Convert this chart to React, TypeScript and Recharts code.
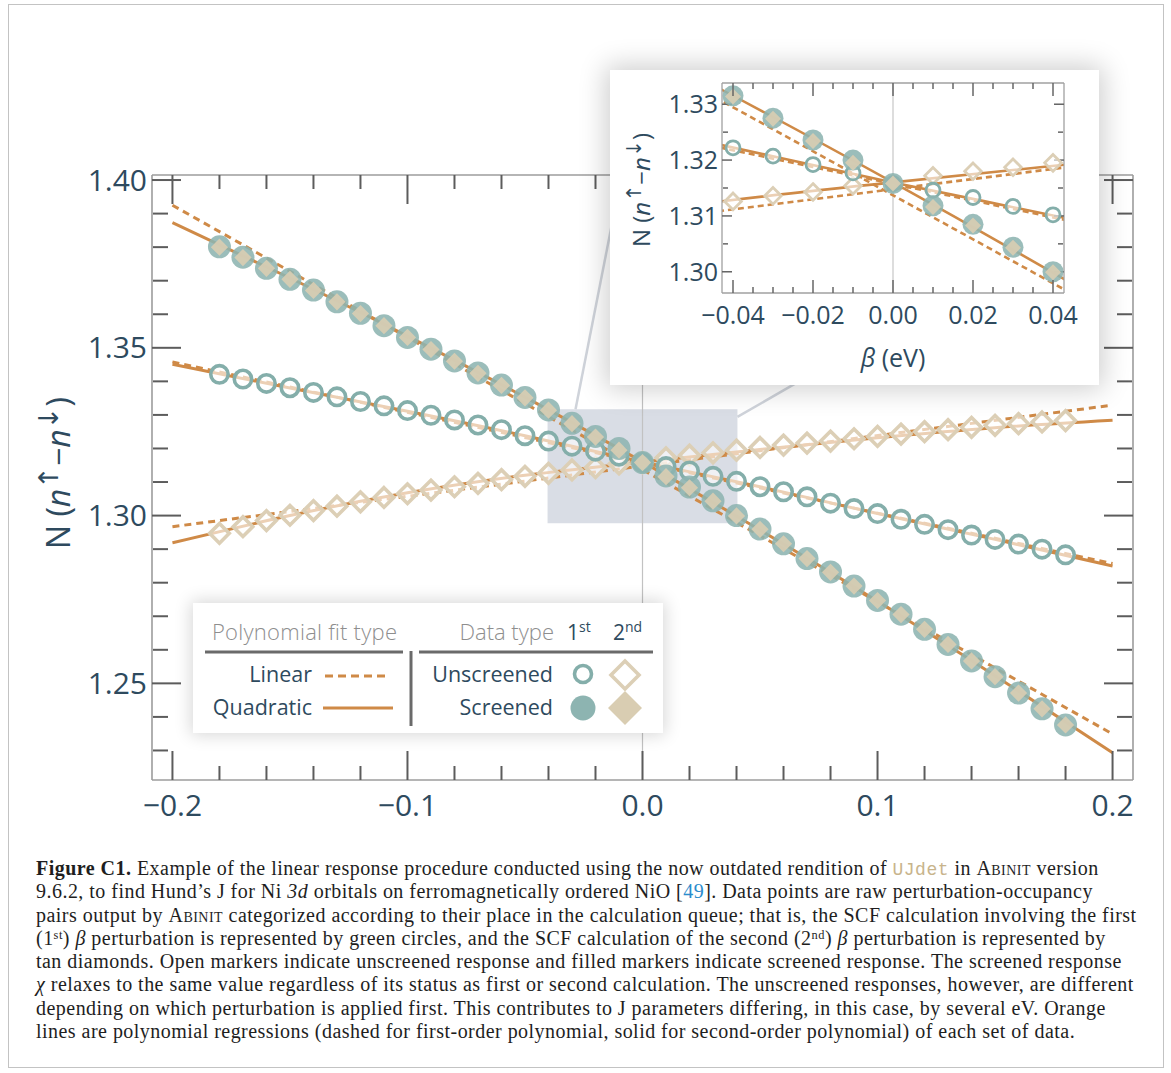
import React from 'react';
import { ComposedChart, Line, Scatter, XAxis, YAxis, ReferenceLine, ReferenceArea } from 'recharts';

// ---------- data ----------
const beta = [-0.18, -0.17, -0.16, -0.15, -0.14, -0.13, -0.12, -0.11, -0.10, -0.09, -0.08, -0.07, -0.06, -0.05, -0.04, -0.03, -0.02, -0.01, 0, 0.01, 0.02, 0.03, 0.04, 0.05, 0.06, 0.07, 0.08, 0.09, 0.10, 0.11, 0.12, 0.13, 0.14, 0.15, 0.16, 0.17, 0.18];

const screened1st = [1.3801, 1.3770, 1.3737, 1.3704, 1.3672, 1.3637, 1.3603, 1.3566, 1.3531, 1.3496, 1.3461, 1.3425, 1.3389, 1.3352, 1.3315, 1.3275, 1.3236, 1.3200, 1.3158, 1.3118, 1.3085, 1.3044, 1.3000, 1.2960, 1.2916, 1.2872, 1.2832, 1.2790, 1.2747, 1.2706, 1.2661, 1.2616, 1.2567, 1.2520, 1.2471, 1.2424, 1.2376];
const screened2nd = [1.3800, 1.3769, 1.3737, 1.3704, 1.3671, 1.3637, 1.3602, 1.3566, 1.3531, 1.3495, 1.3460, 1.3424, 1.3388, 1.3351, 1.3314, 1.3274, 1.3234, 1.3195, 1.3158, 1.3116, 1.3083, 1.3043, 1.2999, 1.2959, 1.2916, 1.2872, 1.2831, 1.2790, 1.2747, 1.2705, 1.2661, 1.2616, 1.2567, 1.2520, 1.2471, 1.2424, 1.2376];
const unscreened1st = [1.3421, 1.3407, 1.3394, 1.3381, 1.3367, 1.3354, 1.3340, 1.3327, 1.3313, 1.3299, 1.3285, 1.3270, 1.3256, 1.3238, 1.3222, 1.3207, 1.3192, 1.3177, 1.3158, 1.3146, 1.3133, 1.3117, 1.3102, 1.3086, 1.3071, 1.3056, 1.3037, 1.3021, 1.3006, 1.2989, 1.2974, 1.2958, 1.2942, 1.2929, 1.2915, 1.2900, 1.2883];
const unscreened2nd = [1.2947, 1.2967, 1.2985, 1.3001, 1.3015, 1.3028, 1.3041, 1.3054, 1.3065, 1.3076, 1.3086, 1.3096, 1.3107, 1.3117, 1.3126, 1.3136, 1.3143, 1.3154, 1.3158, 1.3172, 1.3180, 1.3187, 1.3195, 1.3203, 1.3210, 1.3216, 1.3222, 1.3229, 1.3236, 1.3243, 1.3250, 1.3256, 1.3263, 1.3269, 1.3274, 1.3279, 1.3283];

// polynomial fits
const fitBeta = [-0.2, -0.15, -0.1, -0.05, 0, 0.05, 0.1, 0.15, 0.2];
const quadScreened = [1.3873, 1.3708, 1.3535, 1.3353, 1.3160, 1.2957, 1.2745, 1.2523, 1.2293];
const quadUnscreened1st = [1.3451, 1.3380, 1.3311, 1.3238, 1.3160, 1.3086, 1.3006, 1.2929, 1.2850];
const quadUnscreened2nd = [1.2919, 1.3000, 1.3068, 1.3120, 1.3160, 1.3197, 1.3232, 1.3262, 1.3284];
const linBeta = [-0.2, 0.2];
const linScreened = [1.3925, 1.2349];
const linUnscreened1st = [1.3458, 1.2857];
const linUnscreened2nd = [1.2967, 1.3329];

// axes / ticks
const mainXDomain = [-0.2087, 0.2087];
const mainYDomain = [1.2212, 1.4015];
const mainXTicks = [-0.2, -0.1, 0, 0.1, 0.2];
const mainXMinor = [-0.18, -0.16, -0.14, -0.12, -0.08, -0.06, -0.04, -0.02, 0.02, 0.04, 0.06, 0.08, 0.12, 0.14, 0.16, 0.18];
const mainYTicks = [1.25, 1.30, 1.35, 1.40];
const mainYMinor = [1.23, 1.24, 1.26, 1.27, 1.28, 1.29, 1.31, 1.32, 1.33, 1.34, 1.36, 1.37, 1.38, 1.39];

const insetXDomain = [-0.04275, 0.04275];
const insetYDomain = [1.2962, 1.3338];
const insetXTicks = [-0.04, -0.02, 0, 0.02, 0.04];
const insetXMinor = [-0.035, -0.03, -0.025, -0.015, -0.01, -0.005, 0.005, 0.01, 0.015, 0.025, 0.03, 0.035];
const insetYTicks = [1.30, 1.31, 1.32, 1.33];
const insetYMinor = [1.305, 1.315, 1.325];

// zoom box in main coordinates
const zoomBox = { x1: -0.0404, x2: 0.0404, y1: 1.2977, y2: 1.3317 };
const connectorA = [{ x: -0.0285, y: 1.3317 }, { x: -0.00915, y: 1.4006 }];
const connectorB = [{ x: 0.0404, y: 1.3294 }, { x: 0.0751, y: 1.3434 }];

// ---------- styles ----------
const ORANGE = '#cf8a47';
const TEAL = '#8db4b1';
const TEAL_STROKE = '#84aeaa';
const TAN = '#d9cdb2';
const TAN_STROKE = '#dccfb6';
const LABEL = '#2e4a5e';
const FONT = "'Open Sans', sans-serif";

const pts = (xs: number[], ys: number[]) => xs.map((x, i) => ({ x, y: ys[i] }));
const minus = (s: string) => s.replace('-', '\u2212');
const fx1 = (v: number) => minus(v.toFixed(1));
const fx2 = (v: number) => minus(v.toFixed(2));
const fy2 = (v: number) => v.toFixed(2);
const noLabel = () => <g />;
const sortNum = (a: number[]) => [...a].sort((p, q) => p - q);

// x-axis tick: inward tick marks on bottom and top edges, label for majors
const makeXTick = (majors: number[], fmt: (v: number) => string, fontSize: number, margin: number,
  plotH: number, majLen: number, minLen: number, stroke: string, sw: number) => (p: any) => {
  const v = p.payload.value;
  const isMaj = majors.some((t) => Math.abs(t - v) < 1e-9);
  const axisY = p.y - margin;
  const topY = axisY - plotH;
  const len = isMaj ? majLen : minLen;
  return (
    <g>
      <line x1={p.x} x2={p.x} y1={axisY} y2={axisY - len} stroke={stroke} strokeWidth={sw} />
      <line x1={p.x} x2={p.x} y1={topY} y2={topY + len} stroke={stroke} strokeWidth={sw} />
      {isMaj && (
        <text x={p.x} y={p.y} dy="0.71em" textAnchor="middle" fontFamily={FONT} fontSize={fontSize} fill={LABEL}>{fmt(v)}</text>
      )}
    </g>
  );
};

const openCircle = (r: number, sw: number) => (p: any) => (
  <circle cx={p.cx} cy={p.cy} r={r} fill="#ffffff" fillOpacity={0.6} stroke={TEAL_STROKE} strokeWidth={sw} />
);
const filledCircle = (r: number) => (p: any) => (
  <circle cx={p.cx} cy={p.cy} r={r} fill={TEAL} fillOpacity={0.88} />
);
const diamondPath = (cx: number, cy: number, h: number) => `M${cx},${cy - h}L${cx + h},${cy}L${cx},${cy + h}L${cx - h},${cy}Z`;
const openDiamond = (h: number, sw: number) => (p: any) => (
  <path d={diamondPath(p.cx, p.cy, h)} fill="#ffffff" fillOpacity={0.6} stroke={TAN_STROKE} strokeWidth={sw} strokeLinejoin="miter" />
);
const filledDiamond = (h: number) => (p: any) => (
  <path d={diamondPath(p.cx, p.cy, h)} fill={TAN} fillOpacity={0.9} />
);

function frameAxes(
  id: string, xDom: number[], yDom: number[], xMaj: number[], yMaj: number[], yMin: number[],
  yMajLen: number, yMinLen: number, frame: any, tl: any,
) {
  const c: any = { type: 'number', allowDataOverflow: true, tick: noLabel, interval: 0, mirror: true, tickMargin: 0 };
  return [
    <XAxis key={id + 'xb'} xAxisId={id + 'xb'} {...c} orientation="bottom" domain={xDom} ticks={xMaj} tickLine={false} axisLine={frame} height={1} />,
    <XAxis key={id + 'xt'} xAxisId={id + 'xt'} {...c} orientation="top" domain={xDom} ticks={xMaj} tickLine={false} axisLine={frame} height={1} />,
    <YAxis key={id + 'yl'} yAxisId={id + 'yl'} {...c} orientation="left" domain={yDom} ticks={yMaj} tickSize={yMajLen} tickLine={tl} axisLine={frame} width={1} />,
    <YAxis key={id + 'ylm'} yAxisId={id + 'ylm'} {...c} orientation="left" domain={yDom} ticks={yMin} tickSize={yMinLen} tickLine={tl} axisLine={false} width={1} />,
    <YAxis key={id + 'yr'} yAxisId={id + 'yr'} {...c} orientation="right" domain={yDom} ticks={yMaj} tickSize={yMajLen} tickLine={tl} axisLine={frame} width={1} />,
    <YAxis key={id + 'yrm'} yAxisId={id + 'yrm'} {...c} orientation="right" domain={yDom} ticks={yMin} tickSize={yMinLen} tickLine={tl} axisLine={false} width={1} />,
  ];
}

function fitLines(id: string, sw: number, dash: string) {
  const common: any = { xAxisId: id + 'x', yAxisId: id + 'y', dataKey: 'y', stroke: ORANGE, strokeWidth: sw, dot: false, activeDot: false, isAnimationActive: false };
  return [
    <Line key="l1" {...common} data={pts(linBeta, linScreened)} type="linear" strokeDasharray={dash} />,
    <Line key="l2" {...common} data={pts(linBeta, linUnscreened1st)} type="linear" strokeDasharray={dash} />,
    <Line key="l3" {...common} data={pts(linBeta, linUnscreened2nd)} type="linear" strokeDasharray={dash} />,
    <Line key="q1" {...common} data={pts(fitBeta, quadScreened)} type="natural" />,
    <Line key="q2" {...common} data={pts(fitBeta, quadUnscreened1st)} type="natural" />,
    <Line key="q3" {...common} data={pts(fitBeta, quadUnscreened2nd)} type="natural" />,
  ];
}

function markers(id: string, s: { oc: number; ocw: number; od: number; odw: number; fc: number; fd: number }) {
  const common: any = { xAxisId: id + 'x', yAxisId: id + 'y', dataKey: 'y', isAnimationActive: false };
  return [
    <Scatter key="u2" {...common} data={pts(beta, unscreened2nd)} shape={openDiamond(s.od, s.odw)} />,
    <Scatter key="u1" {...common} data={pts(beta, unscreened1st)} shape={openCircle(s.oc, s.ocw)} />,
    <Scatter key="s1" {...common} data={pts(beta, screened1st)} shape={filledCircle(s.fc)} />,
    <Scatter key="s2" {...common} data={pts(beta, screened2nd)} shape={filledDiamond(s.fd)} />,
  ];
}

const Arrowed = ({ size }: { size: number }) => (
  <>
    <tspan>N (</tspan>
    <tspan fontStyle="italic">n</tspan>
    <tspan fontSize={size * 0.85} dy={-size * 0.38} fontFamily="'DejaVu Sans', sans-serif">↑</tspan>
    <tspan dy={size * 0.38}>−</tspan>
    <tspan fontStyle="italic">n</tspan>
    <tspan fontSize={size * 0.85} dy={-size * 0.38} fontFamily="'DejaVu Sans', sans-serif">↓</tspan>
    <tspan dy={size * 0.38}>)</tspan>
  </>
);

const MAIN_W = 1171, MAIN_H = 840;
const MAIN_M = { top: 175, left: 151, right: 38, bottom: 59 };
const INSET_W = 489, INSET_H = 315;
const INSET_M = { top: 13, left: 111, right: 35, bottom: 91 };

function MainChart() {
  const tickFont: any = { fontFamily: FONT, fontSize: 30, fill: LABEL };
  const plotH = MAIN_H - MAIN_M.top - MAIN_M.bottom - 1;
  const xTick = makeXTick(mainXTicks, fx1, 30, 15, plotH, 29, 14, '#5c5c5c', 2);
  return (
    <ComposedChart width={MAIN_W} height={MAIN_H} margin={MAIN_M}>
      <XAxis xAxisId="mx" dataKey="x" type="number" domain={mainXDomain} allowDataOverflow ticks={sortNum([...mainXTicks, ...mainXMinor])}
        tickLine={false} axisLine={false} tickSize={0} tickMargin={15} height={1} interval={0} tick={xTick} />
      <YAxis yAxisId="my" dataKey="y" type="number" domain={mainYDomain} allowDataOverflow ticks={mainYTicks}
        tickFormatter={fy2} tickLine={false} axisLine={false} tickSize={0} tickMargin={5} width={1} interval={0} tick={tickFont} />
      {frameAxes('m', mainXDomain, mainYDomain, mainXTicks, mainYTicks, mainYMinor, 29, 15,
        { stroke: '#9c9c9c', strokeWidth: 1.6 }, { stroke: '#5c5c5c', strokeWidth: 2 })}
      <ReferenceLine xAxisId="mx" yAxisId="my" segment={connectorA} stroke="#cfd3da" strokeWidth={2.5} ifOverflow="visible" />
      <ReferenceLine xAxisId="mx" yAxisId="my" segment={connectorB} stroke="#cfd3da" strokeWidth={2.5} ifOverflow="visible" />
      <ReferenceArea xAxisId="mx" yAxisId="my" x1={zoomBox.x1} x2={zoomBox.x2} y1={zoomBox.y1} y2={zoomBox.y2}
        fill="#d9dde5" fillOpacity={1} stroke="none" />
      <ReferenceLine xAxisId="mx" yAxisId="my" x={0} stroke="#c2c2c2" strokeWidth={1.2} />
      {fitLines('m', 3, '7 5')}
      {markers('m', { oc: 8.7, ocw: 3.6, od: 9.8, odw: 3.6, fc: 11.5, fd: 8.6 })}
    </ComposedChart>
  );
}

function InsetChart() {
  const tickFont: any = { fontFamily: FONT, fontSize: 25, fill: LABEL };
  const plotH = INSET_H - INSET_M.top - INSET_M.bottom - 1;
  const xTick = makeXTick(insetXTicks, fx2, 25, 13, plotH, 13, 6, '#666666', 1.5);
  return (
    <ComposedChart width={INSET_W} height={INSET_H} margin={INSET_M}>
      <XAxis xAxisId="ix" dataKey="x" type="number" domain={insetXDomain} allowDataOverflow ticks={sortNum([...insetXTicks, ...insetXMinor])}
        tickLine={false} axisLine={false} tickSize={0} tickMargin={13} height={1} interval={0} tick={xTick} />
      <YAxis yAxisId="iy" dataKey="y" type="number" domain={insetYDomain} allowDataOverflow ticks={insetYTicks}
        tickFormatter={fy2} tickLine={false} axisLine={false} tickSize={0} tickMargin={4} width={1} interval={0} tick={tickFont} />
      {frameAxes('i', insetXDomain, insetYDomain, insetXTicks, insetYTicks, insetYMinor, 10, 5,
        { stroke: '#a0a0a0', strokeWidth: 1.3 }, { stroke: '#666666', strokeWidth: 1.5 })}
      <ReferenceLine xAxisId="ix" yAxisId="iy" x={0} stroke="#c6c6c6" strokeWidth={1.2} />
      {fitLines('i', 2.6, '6 4')}
      {markers('i', { oc: 7, ocw: 2.8, od: 8.3, odw: 2.8, fc: 10.5, fd: 8 })}
    </ComposedChart>
  );
}

function Legend() {
  const dark = LABEL;
  const gray = '#8e8e8e';
  return (
    <svg width={470} height={130} style={{ display: 'block', fontFamily: FONT }}>
      <text x={19} y={37} fontSize={22} fontWeight={300} fill={gray} textLength={185}>Polynomial fit type</text>
      <text x={361} y={37} fontSize={22} fontWeight={300} fill={gray} textAnchor="end">Data type</text>
      <text x={374} y={37} fontSize={21} fill={dark}>1<tspan fontSize={14} dy={-8}>st</tspan></text>
      <text x={420} y={37} fontSize={21} fill={dark}>2<tspan fontSize={14} dy={-8}>nd</tspan></text>
      <line x1={12} x2={210} y1={49} y2={49} stroke="#6a6a6a" strokeWidth={3} />
      <line x1={226} x2={460} y1={49} y2={49} stroke="#6a6a6a" strokeWidth={3} />
      <line x1={218} x2={218} y1={48} y2={123} stroke="#6a6a6a" strokeWidth={3} />
      <text x={119} y={79} fontSize={21.5} fill={dark} textAnchor="end">Linear</text>
      <text x={119} y={112} fontSize={21.5} fill={dark} textAnchor="end">Quadratic</text>
      <line x1={132} x2={196} y1={73} y2={73} stroke={ORANGE} strokeWidth={3} strokeDasharray="8 5" />
      <line x1={130} x2={200} y1={105} y2={105} stroke={ORANGE} strokeWidth={3} />
      <text x={360} y={79} fontSize={21.5} fill={dark} textAnchor="end">Unscreened</text>
      <text x={360} y={112} fontSize={21.5} fill={dark} textAnchor="end">Screened</text>
      <circle cx={390} cy={71} r={8.5} fill="#fff" stroke={TEAL_STROKE} strokeWidth={3.6} />
      <path d={diamondPath(432, 72, 14)} fill="#fff" stroke={TAN_STROKE} strokeWidth={3.6} />
      <circle cx={390} cy={105} r={12.5} fill={TEAL} />
      <path d={diamondPath(432, 105, 17)} fill={TAN} />
    </svg>
  );
}

const capStyle: React.CSSProperties = { whiteSpace: 'nowrap', height: 23.3 };
const sc: React.CSSProperties = { fontVariant: 'small-caps' };
const sup: React.CSSProperties = { fontSize: '0.62em', position: 'relative', top: '-0.5em' };
const mono: React.CSSProperties = { fontFamily: "'Liberation Mono', monospace", color: '#c8b48c', fontSize: '0.9em' };

function Caption() {
  return (
    <div style={{ position: 'absolute', left: 36, top: 857, fontFamily: "'Liberation Serif', 'Times New Roman', serif", fontSize: 20, letterSpacing: '0.47px', lineHeight: '23.3px', color: '#1e1e1e' }}>
      <div style={capStyle}><b>Figure C1.</b> Example of the linear response procedure conducted using the now outdated rendition of <span style={mono}>UJdet</span> in <span style={sc}>Abinit</span> version</div>
      <div style={capStyle}>9.6.2, to find Hund’s J for Ni <i>3d</i> orbitals on ferromagnetically ordered NiO [<span style={{ color: '#2b8ccc' }}>49</span>]. Data points are raw perturbation-occupancy</div>
      <div style={capStyle}>pairs output by <span style={sc}>Abinit</span> categorized according to their place in the calculation queue; that is, the SCF calculation involving the first</div>
      <div style={capStyle}>(1<span style={sup}>st</span>) <i>β</i> perturbation is represented by green circles, and the SCF calculation of the second (2<span style={sup}>nd</span>) <i>β</i> perturbation is represented by</div>
      <div style={capStyle}>tan diamonds. Open markers indicate unscreened response and filled markers indicate screened response. The screened response</div>
      <div style={capStyle}><i>χ</i> relaxes to the same value regardless of its status as first or second calculation. The unscreened responses, however, are different</div>
      <div style={capStyle}>depending on which perturbation is applied first. This contributes to J parameters differing, in this case, by several eV. Orange</div>
      <div style={capStyle}>lines are polynomial regressions (dashed for first-order polynomial, solid for second-order polynomial) of each set of data.</div>
    </div>
  );
}

export default function App() {
  return (
    <div style={{ position: 'absolute', left: 0, top: 0, width: 1171, height: 1073, background: '#fff', overflow: 'hidden' }}>
      <div style={{ position: 'absolute', left: 8, top: 4, width: 1156, height: 1064, border: '1.5px solid #c3c3c3', boxSizing: 'border-box' }} />
      <div style={{ position: 'absolute', left: 0, top: 0 }}>
        <MainChart />
      </div>
      <svg style={{ position: 'absolute', left: 0, top: 0, pointerEvents: 'none' }} width={160} height={840}>
        <text transform="translate(70,473) rotate(-90)" textAnchor="middle" fontFamily={FONT} fontSize={32} fill={LABEL}>
          <Arrowed size={32} />
        </text>
      </svg>
      <div style={{ position: 'absolute', left: 193, top: 603, width: 470, height: 130, background: '#fff', boxShadow: '0 0 16px 2px rgba(0,0,0,0.16)' }}>
        <Legend />
      </div>
      <div style={{ position: 'absolute', left: 610, top: 70, width: INSET_W, height: INSET_H, background: '#fff', boxShadow: '0 0 26px 4px rgba(0,0,0,0.2)' }}>
        <InsetChart />
        <svg style={{ position: 'absolute', left: 0, top: 0, pointerEvents: 'none' }} width={INSET_W} height={INSET_H}>
          <text transform="translate(40,120) rotate(-90)" textAnchor="middle" fontFamily={FONT} fontSize={24} fill={LABEL}>
            <Arrowed size={24} />
          </text>
          <text x={283} y={297} textAnchor="middle" fontFamily={FONT} fontSize={25} fill={LABEL}>
            <tspan fontStyle="italic">β</tspan> (eV)
          </text>
        </svg>
      </div>
      <Caption />
    </div>
  );
}
